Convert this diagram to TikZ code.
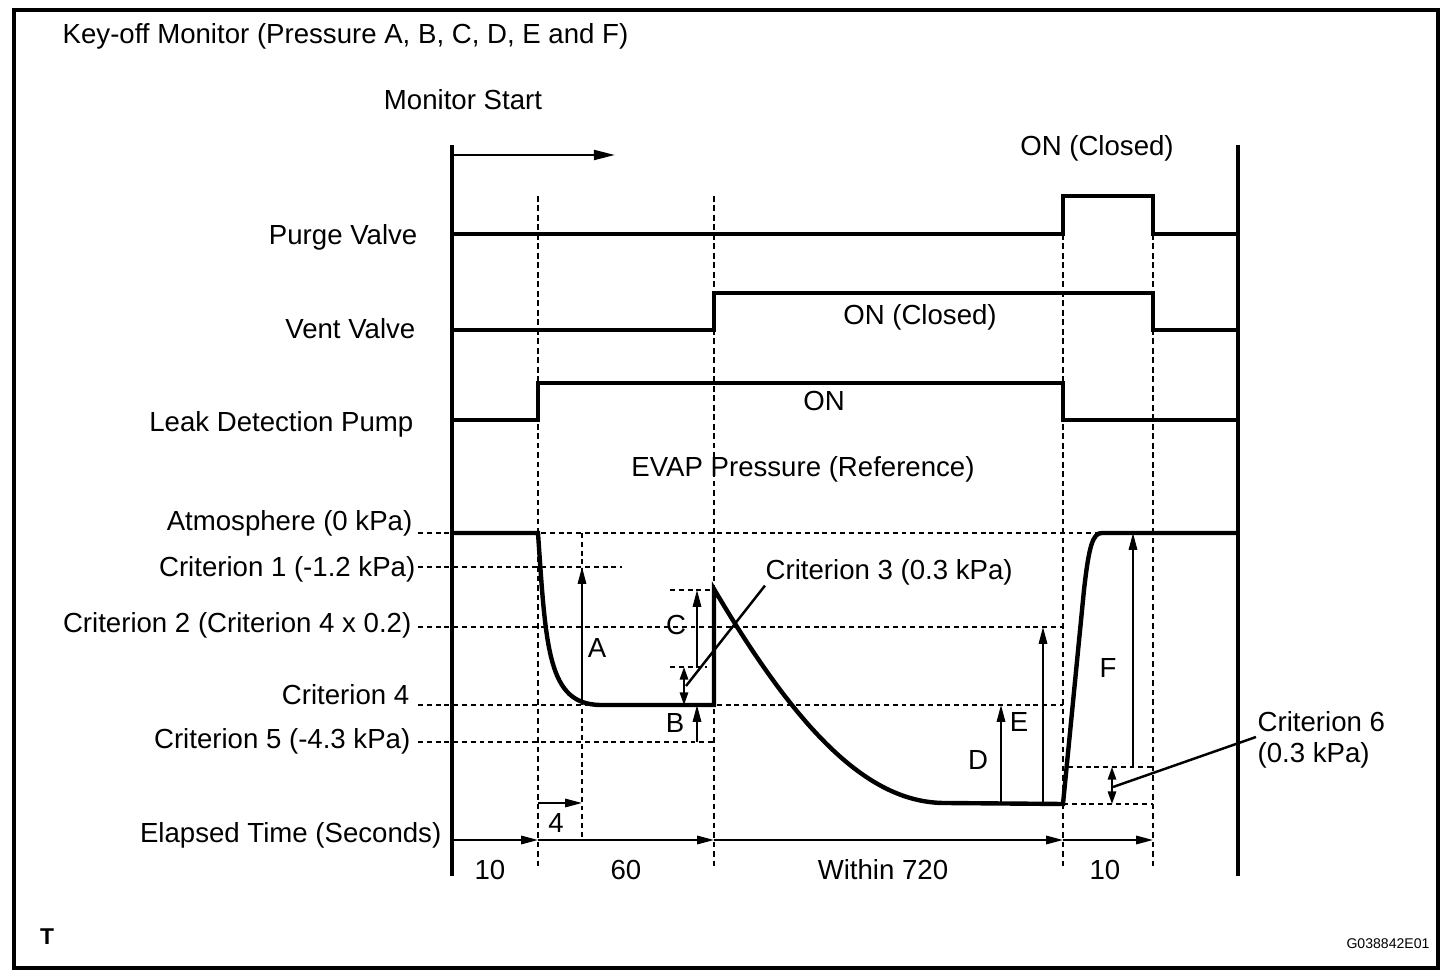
\documentclass[tikz,border=0pt]{standalone}
\usepackage{fontspec}
\setmainfont{Liberation Sans}
\usetikzlibrary{arrows.meta}

\begin{document}
\begin{tikzpicture}[x=0.01cm,y=-0.01cm,
    font=\fontsize{7.85}{9}\selectfont,
    sig/.style={line width=1.25pt},
    guide/.style={line width=0.35pt,dash pattern=on 1.4pt off 1.1pt},
    tick/.style={line width=0.6pt,dash pattern=on 1.6pt off 1.1pt},
    dim/.style={line width=0.5pt,-{Triangle[length=4.8pt,width=2.4pt]}},
    ddim/.style={line width=0.5pt,{Triangle[length=3.6pt,width=2.4pt]}-{Triangle[length=3.6pt,width=2.4pt]}},
    lbl/.style={inner sep=0pt,anchor=east},
    txt/.style={inner sep=0pt}]
    \useasboundingbox (0,0) rectangle (1456,976);
    \draw[line width=0.9pt] (14,10) rectangle (1438,968);

    \node[txt,anchor=west] (title) at (62,36) {Key-off Monitor (Pressure A, B, C, D, E and F)};
    \node[txt] (start) at (463,100) {Monitor Start};
    \node[txt] (purgeon) at (1097,148) {ON (Closed)};
    \node[txt] (venton) at (920,317) {ON (Closed)};
    \node[txt] (pumpon) at (824,401) {ON};
    \node[txt] (evap) at (803,469) {EVAP Pressure (Reference)};

    \node[lbl] (purge) at (418,237) {Purge Valve};
    \node[lbl] (vent) at (416,329) {Vent Valve};
    \node[lbl] (pump) at (414,424) {Leak Detection Pump};
    \node[lbl] (atm) at (413,523) {Atmosphere (0 kPa)};
    \node[lbl] (crit1) at (416,569) {Criterion 1 (-1.2 kPa)};
    \node[lbl] (crit2) at (412,625) {Criterion 2 (Criterion 4 x 0.2)};
    \node[lbl] (crit4) at (410,695) {Criterion 4};
    \node[lbl] (crit5) at (411,741) {Criterion 5 (-4.3 kPa)};
    \node[lbl] (time) at (442,835) {Elapsed Time (Seconds)};

    \draw[line width=1pt] (452,145) -- (452,876);
    \draw[line width=1pt] (1238,145) -- (1238,876);
    \draw[dim,line width=0.7pt,-{Triangle[length=6pt,width=2.8pt]}] (452,155) -- (615,155);

    \foreach \x/\y in {538/196,714/196,1063/234,1153/234}
        \draw[tick] (\x,\y) -- (\x,868);
    \draw[guide] (582,533) -- (582,840);
    \foreach \y/\xe in {533/1100,567/622,627/1063,705/1063,742/714}
        \draw[guide] (418,\y) -- (\xe,\y);
    \draw[guide] (670,590) -- (714,590);
    \draw[guide] (670,667) -- (707,667);
    \draw[guide] (1068,767) -- (1153,767);
    \draw[guide] (1063,804) -- (1153,804);

    \draw[sig] (452,234) -- (1063,234) -- (1063,196) -- (1153,196) -- (1153,234) -- (1238,234);
    \draw[sig] (452,330) -- (714,330) -- (714,293) -- (1153,293) -- (1153,330) -- (1238,330);
    \draw[sig] (452,420) -- (538,420) -- (538,383) -- (1063,383) -- (1063,420) -- (1238,420);
    \draw[sig] (452,533) -- (538,533) .. controls (546,650) and (548,704) .. (600,705)
        -- (714,705) -- (714,589) .. controls (800,735) and (870,803) .. (945,803)
        -- (1063,804) -- (1084,590) .. controls (1089,545) and (1093,533) .. (1102,533) -- (1238,533);

    \draw[dim] (582,705) -- (582,567);
    \draw[dim] (697,667) -- (697,590);
    \draw[ddim] (684,667) -- (684,705);
    \draw[dim] (697,742) -- (697,705);
    \draw[dim] (1001,803) -- (1001,705);
    \draw[dim] (1043,803) -- (1043,627);
    \draw[dim] (1133,767) -- (1133,533);
    \draw[ddim] (1112,767) -- (1112,804);
    \draw[dim] (538,803) -- (582,803);

    \node[txt] (pa) at (597,648) {A};
    \node[txt] (pb) at (675,723) {B};
    \node[txt] (pc) at (676,625) {C};
    \node[txt] (pd) at (978,760) {D};
    \node[txt] (pe) at (1019,722) {E};
    \node[txt] (pf) at (1108,668) {F};
    \node[txt] (four) at (556,823) {4};

    \node[txt,anchor=west] (crit3) at (765,572) {Criterion 3 (0.3 kPa)};
    \coordinate (c3) at (686,686);
    \draw[line width=0.7pt] (c3) -- (crit3.south west);
    \node[txt,anchor=west] (crit6) at (1257,722) {Criterion 6};
    \node[txt,anchor=west] (crit6v) at (1257,755) {(0.3 kPa)};
    \coordinate (c6) at (1113,787);
    \draw[line width=0.7pt] (c6) -- (1256,737);

    \draw[dim] (452,840) -- (538,840);
    \draw[dim] (538,840) -- (714,840);
    \draw[dim] (714,840) -- (1063,840);
    \draw[dim] (1063,840) -- (1153,840);
    \node[txt] (t1) at (490,870) {10};
    \node[txt] (t2) at (626,870) {60};
    \node[txt] (t3) at (883,870) {Within 720};
    \node[txt] (t4) at (1105,870) {10};

    \node[txt,font=\fontsize{6.5}{7}\selectfont\bfseries] (mark) at (47,937) {T};
    \node[txt,font=\fontsize{4}{5}\selectfont] (code) at (1388,944) {G038842E01};
\end{tikzpicture}
\end{document}
